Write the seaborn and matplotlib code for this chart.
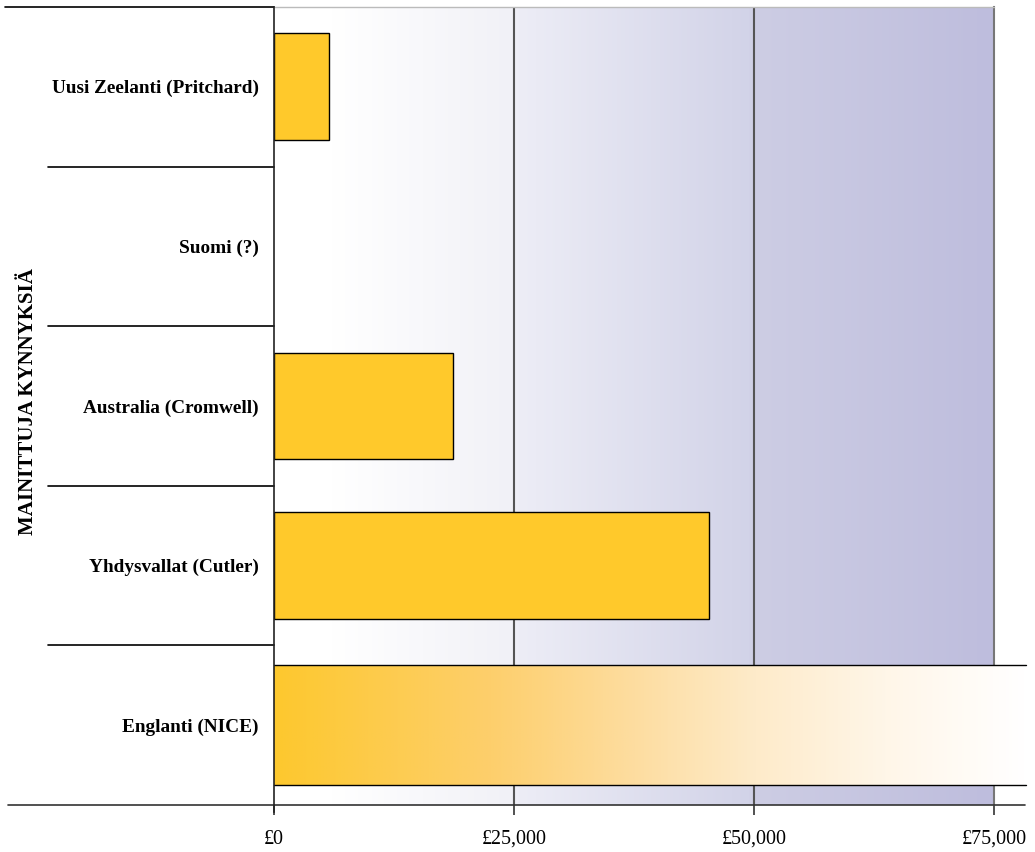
import numpy as np
import pandas as pd
import matplotlib
matplotlib.use("Agg")
import matplotlib.pyplot as plt
from matplotlib.colors import LinearSegmentedColormap
import seaborn as sns

# Thresholds mentioned in different countries (GBP per QALY)
categories = ["Uusi Zeelanti (Pritchard)", "Suomi (?)", "Australia (Cromwell)",
              "Yhdysvallat (Cutler)", "Englanti (NICE)"]
values = [5700, np.nan, 18600, 45300, 78300]
tick_values = [0, 25000, 50000, 75000]
tick_labels = ["£0", "£25,000", "£50,000", "£75,000"]
ylabel_text = "MAINITTUJA KYNNYKSIÄ"

df = pd.DataFrame({"kynnys": categories, "arvo": values})

sns.set_theme(style="white")
plt.rcParams["font.family"] = ["Liberation Serif", "DejaVu Serif"]
plt.rcParams["text.color"] = "black"
plt.rcParams["axes.labelcolor"] = "black"
plt.rcParams["xtick.color"] = "black"
plt.rcParams["ytick.color"] = "black"

W, H = 1035, 852
fig = plt.figure(figsize=(W / 100, H / 100), dpi=100)
ax = fig.add_axes([274 / W, (H - 805) / H, 720 / W, 798 / H])

# Shaded background growing towards the right
bg_cmap = LinearSegmentedColormap.from_list("bg", [
    (0.00, (1.0, 1.0, 1.0)),
    (0.08, (1.0, 1.0, 1.0)),
    (0.33, (241 / 255, 241 / 255, 247 / 255)),
    (0.34, (237 / 255, 237 / 255, 246 / 255)),
    (0.66, (210 / 255, 211 / 255, 232 / 255)),
    (0.67, (205 / 255, 205 / 255, 228 / 255)),
    (1.00, (190 / 255, 189 / 255, 221 / 255)),
])
grad = np.linspace(0, 1, 512).reshape(1, -1)
ax.imshow(grad, cmap=bg_cmap, extent=[0, 75000, 4.5, -0.5], aspect="auto",
          zorder=0, interpolation="bilinear")

for gx in tick_values[1:3]:
    ax.axvline(gx, color="#555555", lw=1.5, zorder=1)

sns.barplot(data=df, x="arvo", y="kynnys", orient="h", color="#FFC92B",
            edgecolor="black", linewidth=1.0, width=0.67, saturation=1,
            ax=ax, zorder=2)

# The NICE bar: a taller bar with a fading fill and open right end
nice = ax.patches[-1]
y_c = nice.get_y() + nice.get_height() / 2
h_nice = 0.75
y0, y1 = y_c - h_nice / 2, y_c + h_nice / 2
x_end = nice.get_width()
nice.set_visible(False)
k = 75000 / x_end
nice_cmap = LinearSegmentedColormap.from_list("nice", [
    (0.00, (253 / 255, 200 / 255, 46 / 255)),
    (0.30 * k, (253 / 255, 207 / 255, 108 / 255)),
    (0.50 * k, (253 / 255, 221 / 255, 160 / 255)),
    (0.67 * k, (254 / 255, 235 / 255, 202 / 255)),
    (0.85 * k, (255 / 255, 246 / 255, 232 / 255)),
    (1.00 * k, (255 / 255, 253 / 255, 250 / 255)),
    (1.00, (1.0, 1.0, 1.0)),
])
nice_img = ax.imshow(grad, cmap=nice_cmap, extent=[0, x_end, y1, y0],
                     aspect="auto", zorder=3, interpolation="bilinear")
nice_img.set_clip_on(False)
ax.plot([0, x_end], [y0, y0], color="black", lw=1.0, clip_on=False, zorder=4)
ax.plot([0, x_end], [y1, y1], color="black", lw=1.0, clip_on=False, zorder=4)

ax.set_xlim(0, 75000)
ax.set_ylim(4.5, -0.5)
ax.set_xticks(tick_values)
ax.set_xticklabels(tick_labels, fontsize=14.4)
ax.tick_params(axis="x", direction="out", length=7, width=1.2, color="#333333",
               labelcolor="black", pad=11, bottom=True)
ax.tick_params(axis="y", length=0, pad=10.8, labelcolor="black")
for lab in ax.get_yticklabels():
    lab.set_fontweight("bold")
    lab.set_fontsize(13.9)
ax.set_xlabel("")
ax.set_ylabel(ylabel_text, fontsize=15, fontweight="bold", color="black")
ax.yaxis.set_label_coords(-0.328, 0.505)

for side in ["top", "bottom"]:
    ax.spines[side].set_visible(False)
ax.spines["left"].set_color("#222222")
ax.spines["left"].set_linewidth(1.2)
ax.spines["left"].set_bounds(4.545, -0.5)
ax.spines["left"].set_zorder(6)
ax.spines["right"].set_color("#777777")
ax.spines["right"].set_linewidth(1.5)

# Row separators on the category side and the frame lines
trans = ax.get_yaxis_transform()
for ys in [0.5, 1.5, 2.5, 3.5]:
    ax.plot([-0.314, 0], [ys, ys], color="black", lw=1.2, transform=trans,
            clip_on=False, zorder=5)
ax.plot([-0.374, 0], [-0.5, -0.5], color="black", lw=1.2, transform=trans,
        clip_on=False, zorder=5)
ax.plot([0, 1], [-0.5, -0.5], color="#BBBBBB", lw=1.0, transform=trans,
        clip_on=False, zorder=5)
ax.plot([-0.369, 1.043], [4.5, 4.5], color="#333333", lw=1.2, transform=trans,
        clip_on=False, zorder=5)

fig.savefig("out.png", dpi=100)
